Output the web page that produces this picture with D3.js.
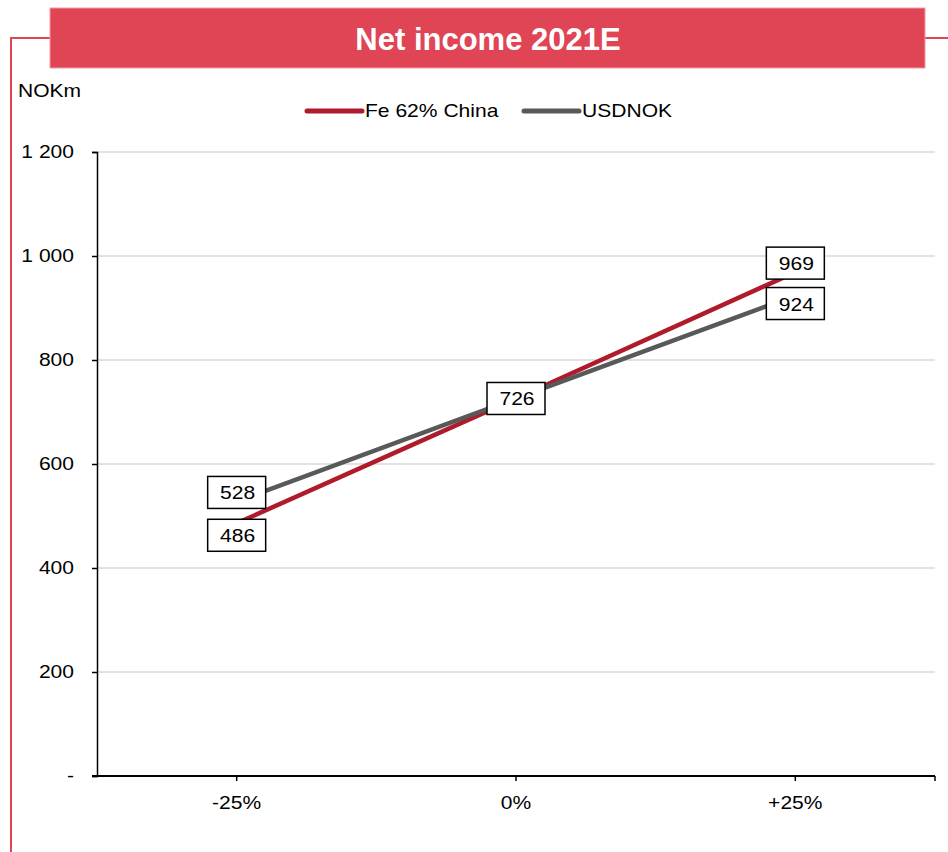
<!DOCTYPE html>
<html>
<head>
<meta charset="utf-8">
<script src="https://cdn.jsdelivr.net/npm/d3@7"></script>
<style>
  html, body { margin: 0; padding: 0; background: #fff; }
  svg { display: block; font-family: "Liberation Sans", Arial, sans-serif; }
</style>
</head>
<body>
<svg id="chart" width="948" height="852"></svg>
<script>
// Sensitivity of 2021E net income (NOKm) to price / FX changes
const categories = ["-25%", "0%", "+25%"];
const feValues = [486, 726, 969];
const usdnokValues = [528, 726, 924];
const yTicks = [0, 200, 400, 600, 800, 1000, 1200];
const seriesNames = ["Fe 62% China", "USDNOK"];

const colors = { fe: "#B01B2C", usd: "#595959", accent: "#E04555" };
const STRETCH = 1.17;   // small text is set slightly wide
const FONT = 18;

const svg = d3.select("#chart");

// Text helper: horizontally widened label at (x, y)
function txt(parent, x, y, s, anchor) {
  return parent.append("text")
    .attr("transform", `translate(${x},${y}) scale(${STRETCH},1)`)
    .attr("text-anchor", anchor || "start")
    .attr("font-size", FONT).attr("fill", "#000").text(s);
}

// Outer frame and title banner
svg.append("path")
  .attr("d", "M11,852 L11,38 L50,38 M925,38 L948,38")
  .attr("fill", "none").attr("stroke", colors.accent).attr("stroke-width", 2);
svg.append("rect")
  .attr("x", 50).attr("y", 8).attr("width", 875).attr("height", 60)
  .attr("fill", colors.accent).attr("stroke", "#F29AA3").attr("stroke-width", 1);
svg.append("text")
  .attr("x", 488).attr("y", 50).attr("text-anchor", "middle")
  .attr("font-size", 31).attr("font-weight", "bold").attr("fill", "#fff")
  .text("Net income 2021E");

// Scales
const plot = { left: 97, right: 935, top: 152, bottom: 776 };
const x = d3.scaleBand().domain(categories).range([plot.left, plot.right]);
const y = d3.scaleLinear().domain([0, 1200]).range([plot.bottom, plot.top]);
const cx = c => x(c) + x.bandwidth() / 2;

// Gridlines
svg.append("g").selectAll("line").data(yTicks.filter(d => d > 0)).join("line")
  .attr("x1", plot.left).attr("x2", plot.right)
  .attr("y1", d => y(d)).attr("y2", d => y(d))
  .attr("stroke", "#D9D9D9").attr("stroke-width", 1.5);

// Y axis (line and ticks from d3.axisLeft, labels widened)
const yFmt = d => d === 0 ? "-" : d3.format(",")(d).replace(/,/g, " ");
const yAxis = svg.append("g").attr("transform", `translate(${plot.left},0)`)
  .call(d3.axisLeft(y).tickValues(yTicks).tickSize(5).tickFormat(""));
yAxis.select(".domain").attr("stroke", "#000").attr("stroke-width", 1.5);
yAxis.selectAll(".tick line").attr("stroke", "#000").attr("stroke-width", 1.5);
const yLab = svg.append("g");
yTicks.forEach(t => txt(yLab, 74, y(t) + 6, yFmt(t), "end"));

txt(svg, 18, 97, "NOKm");

// X axis
const xAxis = svg.append("g").attr("transform", `translate(0,${plot.bottom})`);
xAxis.append("line")
  .attr("x1", plot.left - 5).attr("x2", plot.right)
  .attr("y1", 0).attr("y2", 0)
  .attr("stroke", "#000").attr("stroke-width", 2);
const xTickPos = categories.map(cx).concat([plot.right]);
xAxis.selectAll("line.tick").data(xTickPos).join("line").attr("class", "tick")
  .attr("x1", d => d).attr("x2", d => d).attr("y1", 0).attr("y2", 5)
  .attr("stroke", "#000").attr("stroke-width", 1.5);
categories.forEach(c => txt(xAxis, cx(c), 33, c, "middle"));

// Lines
const line = d3.line().x((d, i) => cx(categories[i])).y(d => y(d));
svg.append("path").datum(feValues).attr("d", line)
  .attr("fill", "none").attr("stroke", colors.fe).attr("stroke-width", 4.5);
svg.append("path").datum(usdnokValues).attr("d", line)
  .attr("fill", "none").attr("stroke", colors.usd).attr("stroke-width", 4.5);

// Data labels in boxes
function label(value, i, dy) {
  const px = cx(categories[i]), py = y(value) + dy;
  const g = svg.append("g");
  g.append("rect").attr("x", px - 29).attr("y", py - 16).attr("width", 58).attr("height", 32)
    .attr("fill", "#fff").attr("stroke", "#000").attr("stroke-width", 1.5);
  txt(g, px + 1, py + 7, value, "middle");
}
label(usdnokValues[0], 0, -9);
label(feValues[0], 0, 12);
label(feValues[1], 1, 0);
label(feValues[2], 2, -9);
label(usdnokValues[2], 2, 8);

// Legend
const legend = [
  { name: seriesNames[0], color: colors.fe, x: 307 },
  { name: seriesNames[1], color: colors.usd, x: 524 }
];
const lg = svg.append("g");
legend.forEach(l => {
  lg.append("line").attr("x1", l.x).attr("x2", l.x + 55).attr("y1", 111).attr("y2", 111)
    .attr("stroke", l.color).attr("stroke-width", 5).attr("stroke-linecap", "round");
  txt(lg, l.x + 58, 117, l.name);
});
</script>
</body>
</html>
